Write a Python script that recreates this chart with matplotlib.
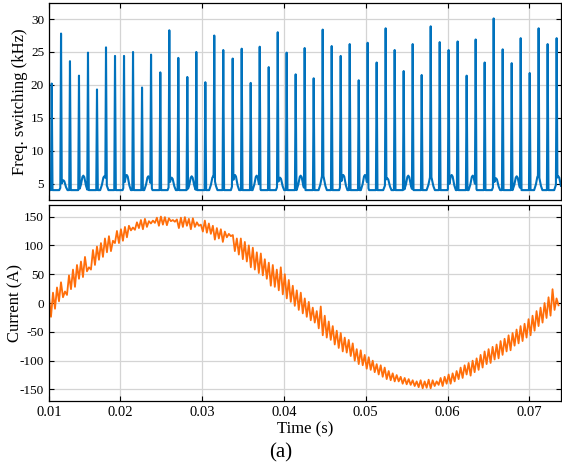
import numpy as np
import matplotlib.pyplot as plt

plt.rcParams['font.family'] = ['Liberation Serif', 'DejaVu Serif']
plt.rcParams['axes.unicode_minus'] = False

# spikes of the switching frequency (time in s, peak in kHz)
spike_t = [0.01166, 0.01280, 0.01389, 0.01499, 0.01609, 0.01719, 0.01829, 0.01939,
           0.02049, 0.02159, 0.02269, 0.02379, 0.02492, 0.02602, 0.02712, 0.02822,
           0.02932, 0.03042, 0.03151, 0.03261, 0.03376, 0.03486, 0.03596, 0.03706,
           0.03816, 0.03926, 0.04035, 0.04145, 0.04255, 0.04365, 0.04475, 0.04585,
           0.04695, 0.04805, 0.04915, 0.05024, 0.05134, 0.05244, 0.05354, 0.05464,
           0.05574, 0.05684, 0.05794, 0.05904, 0.06013, 0.06123, 0.06233, 0.06343,
           0.06453, 0.06563, 0.06673, 0.06783, 0.06893, 0.07003, 0.07112, 0.07222,
           0.07332]
spike_peak = [20.2, 27.8, 23.6, 21.4, 24.9, 19.3, 25.7, 24.4, 24.4, 25.0, 19.6, 24.6,
              21.9, 28.3, 24.1, 21.2, 25.0, 20.4, 27.5, 25.3, 24.0, 25.5, 20.3, 25.8,
              22.7, 28.0, 24.9, 21.6, 25.6, 21.0, 28.4, 25.9, 24.4, 26.2, 20.7, 26.4,
              23.4, 28.6, 25.3, 22.1, 26.2, 21.5, 28.9, 26.5, 25.3, 26.6, 21.4, 26.9,
              23.4, 30.1, 25.4, 23.3, 27.1, 21.8, 28.6, 26.2, 27.1]
# small humps near the base level
hump_t = [0.01308, 0.01552, 0.01808, 0.02082, 0.02346, 0.02631, 0.02875, 0.03139,
          0.03404, 0.03669, 0.03954, 0.04206, 0.04475, 0.04726, 0.04991, 0.05264,
          0.05520, 0.05794, 0.06050, 0.06307, 0.06591, 0.06844, 0.07107, 0.07352]
hump_peak = [5.5, 6.2, 6.1, 6.3, 6.1, 5.9, 6.1, 6.1, 6.3, 6.2, 5.9, 6.2,
             6.2, 6.3, 6.3, 5.8, 6.2, 6.0, 6.3, 6.2, 5.8, 6.1, 6.2, 6.1]
f_base = 4.0

# phase current (A), one sample every 0.244 ms from t = 0.01133 s
current = [10, -24, 18, -10, 27, 3, 36, 10, 20, 14,
           48, 24, 58, 28, 66, 42, 72, 45, 80, 55,
           62, 58, 92, 66, 98, 75, 104, 80, 112, 88,
           116, 90, 108, 104, 125, 104, 128, 108, 132, 114,
           134, 126, 131, 127, 140, 130, 144, 128, 146, 132,
           142, 138, 143, 139, 148, 134, 150, 136, 149, 135,
           147, 142, 144, 141, 145, 130, 148, 132, 149, 134,
           146, 128, 147, 132, 140, 134, 136, 124, 143, 122,
           138, 120, 134, 110, 130, 112, 128, 106, 124, 114,
           120, 116, 118, 90, 112, 84, 112, 76, 106, 72,
           100, 62, 96, 58, 88, 52, 86, 48, 76, 42,
           70, 30, 66, 28, 58, 22, 62, 15, 50, 8,
           40, 2, 30, -5, 22, -12, 18, -18, 8, -24,
           2, -30, -8, -34, -14, -44, -6, -56, -22, -60,
           -32, -64, -40, -72, -48, -78, -52, -84, -60, -86,
           -64, -92, -70, -100, -80, -106, -82, -108, -90, -114,
           -94, -116, -100, -120, -106, -124, -108, -128, -112, -132,
           -118, -134, -122, -136, -125, -136, -128, -140, -130, -141,
           -132, -142, -134, -144, -136, -146, -134, -148, -136, -147,
           -133, -148, -134, -144, -136, -142, -130, -144, -128, -140,
           -124, -140, -122, -136, -118, -132, -112, -130, -108, -124,
           -104, -126, -100, -120, -96, -116, -90, -112, -84, -106,
           -80, -104, -76, -98, -72, -96, -66, -90, -62, -84,
           -56, -82, -52, -74, -46, -70, -40, -66, -36, -60,
           -28, -56, -22, -48, -14, -40, -8, -34, 0, -26,
           10, -22, 24, -12, 8, -4]
t_start = 0.01133
t_step = 0.000244

x_lim = (0.01133, 0.07385)
x_ticks = [0.01133, 0.02, 0.03, 0.04, 0.05, 0.06, 0.07]
x_labels = ['0.01', '0.02', '0.03', '0.04', '0.05', '0.06', '0.07']

blue = '#0072BD'
orange = '#FF6E0A'

# switching frequency trace built on a fine time grid
t_f = np.arange(x_lim[0], x_lim[1], 0.00001)
f = np.full_like(t_f, f_base)
for tc, p in zip(spike_t, spike_peak):
    f = np.maximum(f, np.interp(t_f, [tc - 0.00009, tc, tc + 0.00009], [f_base, p, f_base]))
for tc, p in zip(hump_t, hump_peak):
    f = np.maximum(f, np.interp(t_f, [tc - 0.0005, tc - 0.0003, tc - 0.00012, tc, tc + 0.00012, tc + 0.0003, tc + 0.0005],
                                [f_base, f_base + 0.35 * (p - f_base), f_base + 0.9 * (p - f_base), p,
                                 f_base + 0.9 * (p - f_base), f_base + 0.35 * (p - f_base), f_base]))

t_c = t_start + t_step * np.arange(len(current))

fig = plt.figure(figsize=(5.62, 4.71), dpi=100)
ax1 = fig.add_axes([0.0872, 0.5754, 0.911, 0.4176])
ax2 = fig.add_axes([0.0872, 0.1486, 0.911, 0.4161])

ax1.plot(t_f, f, color=blue, lw=1.5)
ax2.plot(t_c, current, color=orange, lw=1.3)

for ax in (ax1, ax2):
    ax.set_xlim(*x_lim)
    ax.set_xticks(x_ticks)
    ax.grid(True, color='#d4d4d4', lw=0.9)
    ax.tick_params(direction='in', top=True, right=True, length=3.5, width=0.8, labelsize=9.5)
    for s in ax.spines.values():
        s.set_linewidth(0.9)

ax1.set_xticklabels([])
ax1.set_ylim(2.5, 32.4)
ax1.set_yticks([5, 10, 15, 20, 25, 30])
ax1.set_ylabel('Freq. switching (kHz)', fontsize=12)
ax1.yaxis.set_label_coords(-0.041, 0.5)

ax2.set_ylim(-170, 170)
ax2.set_yticks([-150, -100, -50, 0, 50, 100, 150])
ax2.set_xticklabels(x_labels, fontsize=10.5)
ax2.set_ylabel('Current (A)', fontsize=12)
ax2.yaxis.set_label_coords(-0.05, 0.5)
ax2.set_xlabel('Time (s)', fontsize=12, labelpad=2)

fig.text(0.5, 0.038, '(a)', ha='center', va='center', fontsize=15)

fig.savefig('out.png', dpi=100)
